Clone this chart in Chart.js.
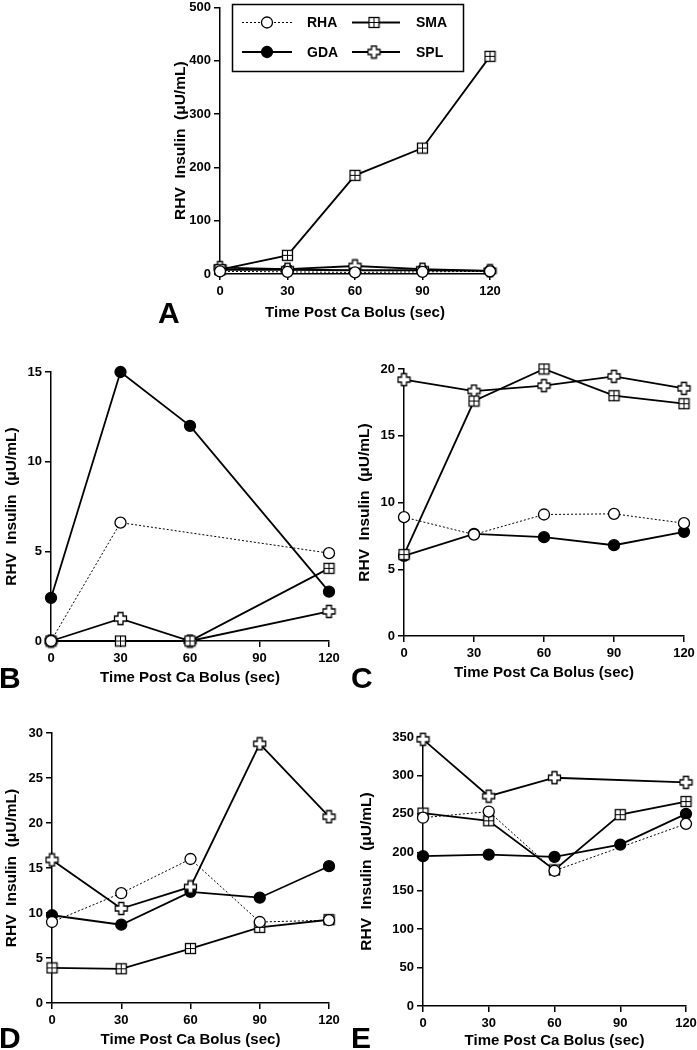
<!DOCTYPE html>
<html>
<head>
<meta charset="UTF-8">
<title>RHV Insulin after Ca bolus</title>
<script src="https://cdn.jsdelivr.net/npm/chart.js@4.4.0/dist/chart.umd.min.js"></script>
<style>
body { margin:0; background:#fff; width:697px; height:1050px; position:relative; overflow:hidden; }
.panel { position:absolute; }
.letter { position:absolute; font:bold 30px/30px "Liberation Sans", Arial, sans-serif; color:#000; }
</style>
</head>
<body>
<div class="panel" style="left:171px;top:0px"><canvas id="chartA" width="333" height="322"></canvas></div>
<div class="panel" style="left:2px;top:360px"><canvas id="chartB" width="341" height="327"></canvas></div>
<div class="panel" style="left:355px;top:357px"><canvas id="chartC" width="342" height="325"></canvas></div>
<div class="panel" style="left:2px;top:721px"><canvas id="chartD" width="341" height="328"></canvas></div>
<div class="panel" style="left:357px;top:725px"><canvas id="chartE" width="340" height="325"></canvas></div>

<div class="letter" style="left:158px;top:298px">A</div>
<div class="letter" style="left:-1px;top:663px">B</div>
<div class="letter" style="left:351px;top:663px">C</div>
<div class="letter" style="left:-1px;top:1023px">D</div>
<div class="letter" style="left:351px;top:1023px">E</div>

<script>
// time points (sec after Ca bolus)
const times = [0, 30, 60, 90, 120];
const names = ['RHA', 'GDA', 'SMA', 'SPL'];

// panel A
const rhaA = [5, 4, 3, 4, 5];
const gdaA = [8, 8, 7, 7, 6];
const smaA = [8, 35, 185, 236, 408];
const splA = [12, 9, 15, 9, 6];
// panel B
const rhaB = [0, 6.6, null, null, 4.9];
const gdaB = [2.4, 15, 12, null, 2.75];
const smaB = [0, 0, 0, null, 4.05];
const splB = [0, 1.25, 0, null, 1.65];
// panel C
const rhaC = [8.9, 7.6, 9.1, 9.15, 8.45];
const gdaC = [6.0, 7.65, 7.4, 6.8, 7.8];
const smaC = [6.1, 17.6, 20.0, 18.0, 17.4];
const splC = [19.2, 18.35, 18.75, 19.45, 18.55];
// panel D
const rhaD = [9.0, 12.2, 16.0, 9.0, 9.2];
const gdaD = [9.75, 8.7, 12.35, 11.7, 15.2];
const smaD = [3.9, 3.8, 6.05, 8.4, 9.25];
const splD = [15.9, 10.5, 12.9, 28.8, 20.7];
// panel E
const rhaE = [245, 253, 176, null, 237];
const gdaE = [195, 197, 194, 210, 250];
const smaE = [251, 241, 177, 249, 266];
const splE = [347, 273, 297, null, 291];

// y axis ticks per panel
const yMaxA = 500, yStepA = 100;
const yMaxB = 15, yStepB = 5;
const yMaxC = 20, yStepC = 5;
const yMaxD = 30, yStepD = 5;
const yMaxE = 350, yStepE = 50;

const FONT = '"Liberation Sans", Arial, Helvetica, sans-serif';

// marker images
function squarePlus() {
  const c = document.createElement('canvas');
  c.width = 13; c.height = 13;
  const g = c.getContext('2d');
  g.fillStyle = '#fff';
  g.fillRect(1.5, 1.5, 10, 10);
  g.strokeStyle = '#000';
  g.lineWidth = 1.3;
  g.strokeRect(1.5, 1.5, 10, 10);
  g.lineWidth = 1;
  g.beginPath();
  g.moveTo(6.5, 1.5); g.lineTo(6.5, 11.5);
  g.moveTo(1.5, 6.5); g.lineTo(11.5, 6.5);
  g.stroke();
  return c;
}
function crossOutline() {
  const c = document.createElement('canvas');
  c.width = 15; c.height = 15;
  const g = c.getContext('2d');
  const m = 7.5, h = 6, a = 2.5;
  const pts = [[m-a,m-h],[m+a,m-h],[m+a,m-a],[m+h,m-a],[m+h,m+a],[m+a,m+a],
               [m+a,m+h],[m-a,m+h],[m-a,m+a],[m-h,m+a],[m-h,m-a],[m-a,m-a]];
  g.beginPath();
  pts.forEach((p, i) => i ? g.lineTo(p[0], p[1]) : g.moveTo(p[0], p[1]));
  g.closePath();
  g.fillStyle = '#fff';
  g.fill();
  g.strokeStyle = '#000';
  g.lineWidth = 1.3;
  g.stroke();
  return c;
}
const sqImg = squarePlus();
const crImg = crossOutline();

// order: lower number is drawn on top
const styles = {
  RHA: { pointStyle: 'circle', pointRadius: 5.5, pointBackgroundColor: '#fff', borderWidth: 1, borderDash: [2, 2], order: 0 },
  GDA: { pointStyle: 'circle', pointRadius: 5.5, pointBackgroundColor: '#000', borderWidth: 1.8, borderDash: [], order: 3 },
  SMA: { pointStyle: sqImg, pointRadius: 6, pointBackgroundColor: '#fff', borderWidth: 1.8, borderDash: [], order: 1 },
  SPL: { pointStyle: crImg, pointRadius: 6, pointBackgroundColor: '#fff', borderWidth: 1.8, borderDash: [], order: 2 }
};

function dataset(name, values) {
  const s = styles[name];
  return {
    label: name,
    data: times.map((t, i) => ({ x: t, y: values[i] })),
    borderColor: '#000',
    borderWidth: s.borderWidth,
    borderDash: s.borderDash,
    pointStyle: s.pointStyle,
    pointRadius: s.pointRadius,
    pointBackgroundColor: s.pointBackgroundColor,
    pointBorderColor: '#000',
    pointBorderWidth: 1.3,
    order: s.order,
    spanGaps: true,
    tension: 0,
    clip: false
  };
}

// legend drawn inside panel A
const legendPlugin = {
  id: 'boxLegend',
  afterDraw(chart) {
    const ctx = chart.ctx;
    ctx.save();
    ctx.strokeStyle = '#000';
    ctx.lineWidth = 1.5;
    ctx.strokeRect(61.5, 4.5, 231, 67);
    const entries = [
      ['RHA', 71, 121, 96, 136, 22.5],
      ['SMA', 181, 229, 203, 245, 22.5],
      ['GDA', 71, 121, 96, 136, 52],
      ['SPL', 181, 229, 203, 245, 52]
    ];
    entries.forEach(([name, x0, x1, mx, tx, y]) => {
      const s = styles[name];
      ctx.beginPath();
      ctx.setLineDash(s.borderDash);
      ctx.lineWidth = s.borderWidth;
      ctx.moveTo(x0, y); ctx.lineTo(x1, y);
      ctx.stroke();
      ctx.setLineDash([]);
      if (s.pointStyle === 'circle') {
        ctx.beginPath();
        ctx.arc(mx, y, 5.5, 0, Math.PI * 2);
        ctx.fillStyle = s.pointBackgroundColor;
        ctx.fill();
        ctx.lineWidth = 1.3;
        ctx.stroke();
      } else {
        const img = s.pointStyle;
        ctx.drawImage(img, mx - img.width / 2, y - img.height / 2);
      }
      ctx.fillStyle = '#000';
      ctx.font = 'bold 14px ' + FONT;
      ctx.textBaseline = 'middle';
      ctx.textAlign = 'left';
      ctx.fillText(name, tx, y + 1);
    });
    ctx.restore();
  }
};

function makePanel(id, series, yMax, yStep, pad, yWidth, xHeight, plugins) {
  return new Chart(document.getElementById(id), {
    type: 'line',
    data: { datasets: names.map((n, i) => dataset(n, series[i])) },
    options: {
      responsive: false,
      animation: false,
      events: [],
      layout: { padding: pad },
      plugins: { legend: { display: false }, tooltip: { enabled: false } },
      scales: {
        x: {
          type: 'linear', min: 0, max: 120,
          ticks: { stepSize: 30, color: '#000', padding: 4, maxRotation: 0,
                   font: { family: FONT, size: 13, weight: 'bold' } },
          grid: { drawOnChartArea: false, color: '#000', lineWidth: 1.5, tickLength: 6 },
          border: { display: true, color: '#000', width: 1.5 },
          title: { display: true, text: 'Time Post Ca Bolus (sec)', color: '#000', padding: 0,
                   font: { family: FONT, size: 15, weight: 'bold' } },
          afterFit: s => { s.height = xHeight; s.paddingLeft = 0; s.paddingRight = 0; }
        },
        y: {
          min: 0, max: yMax,
          ticks: { stepSize: yStep, color: '#000', padding: 3,
                   font: { family: FONT, size: 13, weight: 'bold' } },
          grid: { drawOnChartArea: false, color: '#000', lineWidth: 1.5, tickLength: 6 },
          border: { display: true, color: '#000', width: 1.5 },
          title: { display: true, text: 'RHV  Insulin  (\u03BCU/mL)', color: '#000', padding: 0,
                   font: { family: FONT, size: 15.5, weight: 'bold' } },
          afterFit: s => { s.width = yWidth; s.paddingTop = 0; s.paddingBottom = 0; }
        }
      }
    },
    plugins: plugins || []
  });
}

makePanel('chartA', [rhaA, gdaA, smaA, splA], yMaxA, yStepA,
  { left: 0, top: 5, right: 14, bottom: 0 }, 49, 48, [legendPlugin]);
makePanel('chartB', [rhaB, gdaB, smaB, splB], yMaxB, yStepB,
  { left: 0, top: 12, right: 14, bottom: 0 }, 49, 46);
makePanel('chartC', [rhaC, gdaC, smaC, splC], yMaxC, yStepC,
  { left: 0, top: 12, right: 13, bottom: 0 }, 49, 46);
makePanel('chartD', [rhaD, gdaD, smaD, splD], yMaxD, yStepD,
  { left: 0, top: 12, right: 14, bottom: 0 }, 50, 46);
makePanel('chartE', [rhaE, gdaE, smaE, splE], yMaxE, yStepE,
  { left: 0, top: 12, right: 11, bottom: 0 }, 66, 44);
</script>
</body>
</html>
